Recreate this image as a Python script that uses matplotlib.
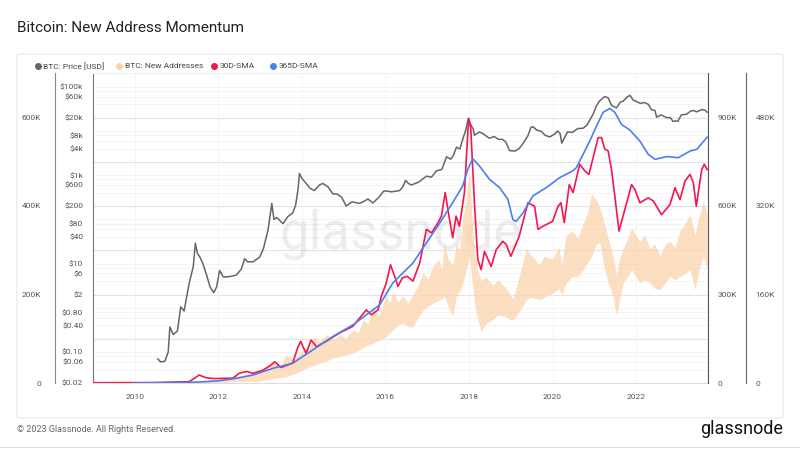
import numpy as np
import matplotlib.pyplot as plt
from matplotlib.lines import Line2D
from matplotlib.patches import FancyBboxPatch

plt.rcParams['font.family'] = ['Roboto', 'DejaVu Sans']

# BTC price [USD]
price_t = [2010.55, 2010.62, 2010.72, 2010.80, 2010.84, 2010.92, 2011.02, 2011.10, 2011.18, 2011.30,
           2011.40, 2011.45, 2011.50, 2011.56, 2011.63, 2011.72, 2011.80, 2011.89, 2011.96, 2012.03,
           2012.12, 2012.20, 2012.32, 2012.43, 2012.55, 2012.63, 2012.70, 2012.83, 2012.99, 2013.08,
           2013.19, 2013.28, 2013.33, 2013.40, 2013.55, 2013.66, 2013.78, 2013.85, 2013.91, 2013.94,
           2014.00, 2014.10, 2014.20, 2014.30, 2014.42, 2014.50, 2014.62, 2014.74, 2014.85, 2014.95,
           2015.06, 2015.20, 2015.38, 2015.50, 2015.58, 2015.70, 2015.86, 2015.95, 2016.02, 2016.15,
           2016.34, 2016.42, 2016.48, 2016.55, 2016.62, 2016.80, 2016.98, 2017.10, 2017.22, 2017.35,
           2017.46, 2017.56, 2017.62, 2017.70, 2017.78, 2017.86, 2017.93, 2017.97, 2017.99, 2018.03,
           2018.10, 2018.13, 2018.25, 2018.35, 2018.49, 2018.60, 2018.70, 2018.81, 2018.88, 2018.97,
           2019.10, 2019.20, 2019.30, 2019.41, 2019.48, 2019.53, 2019.62, 2019.73, 2019.82, 2019.93,
           2020.05, 2020.12, 2020.18, 2020.22, 2020.30, 2020.36, 2020.48, 2020.60, 2020.73, 2020.82,
           2020.89, 2020.97, 2021.05, 2021.12, 2021.20, 2021.25, 2021.33, 2021.41, 2021.53, 2021.62,
           2021.69, 2021.78, 2021.85, 2021.93, 2022.01, 2022.10, 2022.20, 2022.29, 2022.37, 2022.45,
           2022.49, 2022.60, 2022.73, 2022.82, 2022.88, 2022.93, 2023.00, 2023.08, 2023.21, 2023.30,
           2023.37, 2023.45, 2023.57, 2023.65, 2023.70]
price = [0.07, 0.06, 0.062, 0.10, 0.37, 0.25, 0.30, 1.05, 0.85, 3.5,
         8.6, 29, 17, 14, 10, 5.5, 3.0, 2.2, 3.0, 7.0,
         5.0, 5.0, 5.2, 5.5, 7.5, 13, 11, 11, 14, 22,
         58, 230, 100, 110, 80, 115, 140, 210, 500, 1100,
         850, 650, 500, 450, 600, 650, 550, 380, 370, 320,
         200, 250, 230, 260, 290, 235, 330, 430, 440, 420,
         450, 550, 760, 650, 600, 700, 950, 900, 1250, 1350,
         2600, 2300, 2700, 4300, 3900, 7000, 11000, 17000, 19500, 14500,
         11000, 8000, 9500, 8500, 6800, 7500, 6500, 6400, 5600, 3600,
         3500, 4000, 5300, 7800, 12000, 12500, 10500, 9800, 8000, 7300,
         8500, 10000, 8800, 5300, 7500, 9500, 9300, 11300, 11500, 13500,
         17500, 24000, 37000, 47000, 55000, 60000, 56000, 38000, 33000, 45000,
         47000, 58000, 64000, 50000, 46000, 42000, 44000, 40000, 30000, 29000,
         20500, 23000, 20000, 20000, 16500, 16800, 16600, 23000, 24000, 28000,
         29000, 27000, 30500, 29300, 26500]

# BTC new addresses [K], daily range (upper / lower envelope)
addr_t = [2009.0, 2011.5, 2012.0, 2012.5, 2012.9, 2013.1, 2013.3, 2013.5, 2013.62, 2013.8,
          2014.0, 2014.2, 2014.3, 2014.42, 2014.6, 2014.75, 2014.9, 2015.05, 2015.22, 2015.35,
          2015.46, 2015.58, 2015.7, 2015.85, 2016.02, 2016.1, 2016.18, 2016.3, 2016.42, 2016.55,
          2016.66, 2016.78, 2016.9, 2017.02, 2017.14, 2017.27, 2017.35, 2017.41, 2017.5, 2017.61,
          2017.7, 2017.78, 2017.85, 2017.93, 2018.01, 2018.07, 2018.13, 2018.21, 2018.29, 2018.4,
          2018.57, 2018.7, 2018.89, 2018.98, 2019.05, 2019.2, 2019.37, 2019.5, 2019.69, 2019.8,
          2020.0, 2020.15, 2020.22, 2020.32, 2020.48, 2020.6, 2020.73, 2020.85, 2020.93, 2021.05,
          2021.13, 2021.25, 2021.35, 2021.45, 2021.53, 2021.6, 2021.69, 2021.8, 2021.89, 2022.0,
          2022.09, 2022.2, 2022.33, 2022.45, 2022.57, 2022.7, 2022.81, 2022.93, 2023.05, 2023.17,
          2023.29, 2023.41, 2023.5, 2023.61, 2023.7]
addr_hi = [0, 6, 12, 25, 37, 55, 70, 60, 95, 80,
           110, 125, 160, 140, 165, 145, 165, 150, 180, 170,
           215, 200, 255, 230, 300, 270, 310, 275, 295, 270,
           300, 330, 375, 350, 395, 420, 380, 480, 420, 400,
           470, 450, 560, 620, 725, 560, 445, 380, 345, 360,
           330, 350, 320, 300, 285, 360, 455, 430, 400, 430,
           420, 460, 400, 500, 515, 490, 540, 580, 640, 620,
           595, 535, 480, 430, 365, 420, 455, 490, 525, 500,
           480, 500, 455, 470, 430, 470, 480, 460, 515, 540,
           570, 500, 560, 615, 570]
addr_lo = [0, 0, 2, 5, 5, 10, 15, 18, 21, 30,
           44, 55, 60, 67, 75, 85, 89, 95, 101, 110,
           120, 128, 135, 145, 157, 170, 180, 195, 203, 190,
           191, 220, 248, 260, 271, 280, 285, 293, 260, 225,
           300, 310, 339, 380, 429, 350, 271, 215, 175, 200,
           215, 230, 225, 215, 214, 240, 282, 290, 282, 290,
           305, 320, 300, 339, 361, 360, 384, 410, 429, 470,
           475, 384, 330, 293, 225, 280, 339, 360, 384, 360,
           339, 350, 339, 320, 316, 340, 361, 350, 361, 370,
           384, 316, 380, 429, 384]

# 30D-SMA of new addresses [K]
sma30_t = [2009.0, 2010.5, 2011.3, 2011.45, 2011.54, 2011.7, 2011.9, 2012.35, 2012.5, 2012.67,
           2012.83, 2013.07, 2013.25, 2013.35, 2013.5, 2013.78, 2013.9, 2013.97, 2014.1, 2014.22,
           2014.35, 2014.58, 2014.9, 2015.22, 2015.54, 2015.66, 2015.82, 2015.9, 2016.02, 2016.12,
           2016.22, 2016.3, 2016.4, 2016.52, 2016.66, 2016.82, 2016.98, 2017.1, 2017.26, 2017.34,
           2017.43, 2017.52, 2017.61, 2017.69, 2017.77, 2017.89, 2017.93, 2017.99, 2018.04, 2018.13,
           2018.21, 2018.29, 2018.37, 2018.53, 2018.65, 2018.81, 2018.89, 2019.0, 2019.2, 2019.41,
           2019.57, 2019.65, 2019.77, 2020.0, 2020.13, 2020.2, 2020.28, 2020.4, 2020.49, 2020.65,
           2020.77, 2020.87, 2020.97, 2021.09, 2021.17, 2021.25, 2021.33, 2021.41, 2021.49, 2021.59,
           2021.73, 2021.89, 2021.97, 2022.09, 2022.29, 2022.41, 2022.61, 2022.81, 2022.93, 2023.05,
           2023.17, 2023.29, 2023.37, 2023.44, 2023.57, 2023.63, 2023.7]
sma30 = [0.5, 1, 3, 12, 18, 12, 10, 11, 22, 26,
         22, 29, 40, 48, 35, 45, 80, 94, 67, 97,
         82, 94, 113, 128, 165, 154, 165, 195, 226, 267,
         241, 218, 237, 241, 230, 271, 347, 339, 362, 377,
         430, 377, 328, 377, 354, 430, 497, 596, 577, 407,
         279, 256, 297, 263, 301, 320, 313, 286, 331, 407,
         399, 347, 354, 365, 399, 407, 362, 448, 430, 494,
         479, 471, 509, 554, 554, 528, 524, 482, 422, 343,
         392, 448, 437, 407, 418, 411, 380, 403, 441, 414,
         456, 471, 452, 399, 482, 494, 482]

# 365D-SMA of new addresses [K]
sma365_t = [2009.96, 2010.5, 2011.2, 2011.6, 2012.0, 2012.4, 2012.83, 2013.31, 2013.78, 2014.26,
            2014.74, 2015.22, 2015.54, 2015.86, 2016.18, 2016.66, 2016.98, 2017.3, 2017.61, 2017.85,
            2017.97, 2018.09, 2018.25, 2018.49, 2018.73, 2018.93, 2019.05, 2019.13, 2019.29, 2019.53,
            2019.85, 2020.17, 2020.48, 2020.57, 2020.73, 2020.89, 2021.05, 2021.21, 2021.37, 2021.49,
            2021.65, 2021.85, 2022.09, 2022.29, 2022.45, 2022.73, 2023.01, 2023.29, 2023.45, 2023.7]
sma365 = [0, 0.5, 1, 2, 4, 8, 14.5, 26.6, 35.7, 59.8,
          83.9, 105, 123, 141, 181, 217, 253, 289, 326, 356,
          386, 405, 392, 368, 353, 332, 295, 292, 307, 338,
          353, 371, 383, 389, 413, 437, 464, 489, 496, 489,
          467, 457, 437, 413, 404, 409, 407, 419, 422, 444]

price_ticks = [0.02, 0.06, 0.10, 0.40, 0.80, 2, 6, 10, 40, 80, 200, 600, 1000, 4000, 8000, 20000, 60000, 100000]
price_labels = ['$0.02', '$0.06', '$0.10', '$0.40', '$0.80', '$2', '$6', '$10', '$40', '$80', '$200', '$600',
                '$1k', '$4k', '$8k', '$20k', '$60k', '$100k']
year_ticks = [2010, 2012, 2014, 2016, 2018, 2020, 2022]

C_PRICE = '#666666'
C_ADDR = '#fcd3ad'
C_30 = '#f5154f'
C_365 = '#4d7ef0'
TICK = dict(length=0, labelsize=6, labelcolor='#555555')

W, H = 800, 450


def fx(px):
    return px / W


def fy(py):
    return 1 - py / H


fig = plt.figure(figsize=(8, 4.5), dpi=100)

# card border
fig.patches.append(FancyBboxPatch((fx(17), fy(418)), fx(783) - fx(17), fy(54) - fy(418),
                                  boxstyle='round,pad=0,rounding_size=0.005', transform=fig.transFigure,
                                  fill=False, ec='#e8e8e8', lw=0.8))
fig.add_artist(Line2D([0, 1], [fy(447), fy(447)], color='#dddddd', lw=0.8, transform=fig.transFigure))

fig.text(fx(17), fy(28), 'Bitcoin: New Address Momentum', fontsize=11, color='#222222', va='center')
fig.text(fx(17), fy(430), '\u00a9 2023 Glassnode. All Rights Reserved.', fontsize=6.5, color='#666666', va='center')
fig.text(fx(783), fy(429), 'glassnode', fontsize=13, color='#111111', ha='right', va='center')

# price axis (log, inner left)
ax = fig.add_axes([fx(93), fy(383), 615 / W, 310 / H])
ax.set_yscale('log')
ax.set_ylim(0.02, 10 ** 5.31)
ax.set_xlim(2009.0, 2023.72)

# grid: darker lines at 2x10^k, lighter at 4,6,8,10 x10^k
for k in range(-2, 5):
    ax.axhline(2 * 10.0 ** k, color='#e3e3e3', lw=0.8, zorder=0)
    for m in [4, 6, 8, 10]:
        ax.axhline(m * 10.0 ** k, color='#f3f3f3', lw=0.6, zorder=0)
for yr in year_ticks:
    ax.axvline(yr, color='#f3f3f3', lw=0.6, zorder=0)

ax.text(0.5, 0.48, 'glassnode', transform=ax.transAxes, fontsize=38, color='#000000', alpha=0.07,
        ha='center', va='center', zorder=0)

ax.plot(price_t, price, color=C_PRICE, lw=1.1, zorder=3)
ax.set_yticks(price_ticks, price_labels)
ax.yaxis.set_minor_locator(plt.NullLocator())
ax.set_xticks(year_ticks, [str(y) for y in year_ticks])
ax.tick_params(axis='y', pad=7, **TICK)
ax.tick_params(axis='x', pad=8, **TICK)
ax.spines['right'].set_visible(False)
ax.spines['left'].set_color('#777777')
ax.spines['top'].set_color('#eeeeee')
ax.spines['bottom'].set_color('#dddddd')

# new addresses (right axis 1)
ax_r1 = ax.twinx()
ax_r1.fill_between(addr_t, addr_lo, addr_hi, color=C_ADDR, lw=0, alpha=0.75)
ax_r1.set_ylim(0, 1050)
ax_r1.set_yticks([0, 300, 600, 900], ['0', '300K', '600K', '900K'])
ax_r1.tick_params(axis='y', pad=7, **TICK)

# 30D-SMA (outer left axis)
ax_l = ax.twinx()
ax_l.plot(sma30_t, sma30, color=C_30, lw=1.2)
ax_l.set_ylim(0, 700)
ax_l.yaxis.tick_left()
ax_l.spines['left'].set_position(('outward', 27.4))
ax_l.set_yticks([0, 200, 400, 600], ['0', '200K', '400K', '600K'])
ax_l.tick_params(axis='y', pad=10, **TICK)

# 365D-SMA (outer right axis)
ax_r2 = ax.twinx()
ax_r2.plot(sma365_t, sma365, color=C_365, lw=1.2)
ax_r2.set_ylim(0, 560)
ax_r2.spines['right'].set_position(('outward', 27.4))
ax_r2.set_yticks([0, 160, 320, 480], ['0', '160K', '320K', '480K'])
ax_r2.tick_params(axis='y', pad=7, **TICK)

for a in [ax_r1, ax_l, ax_r2]:
    for s in a.spines.values():
        s.set_visible(False)
ax_r1.spines['right'].set_visible(True)
ax_r1.spines['right'].set_color('#555555')
ax_r2.spines['right'].set_visible(True)
ax_r2.spines['right'].set_color('#666666')
ax_l.spines['left'].set_visible(True)
ax_l.spines['left'].set_color('#888888')

# legend
legend_items = [(37.5, C_PRICE, 'BTC: Price [USD]'), (119, C_ADDR, 'BTC: New Addresses'),
                (214, C_30, '30D-SMA'), (273, C_365, '365D-SMA')]
for px, c, label in legend_items:
    fig.add_artist(Line2D([fx(px)], [fy(66)], marker='o', ms=4, color=c, mec=c, lw=0,
                          transform=fig.transFigure))
    fig.text(fx(px + 5.5), fy(66), label, fontsize=6, color='#444444', va='center')

fig.savefig('out.png', dpi=100, facecolor='white')
